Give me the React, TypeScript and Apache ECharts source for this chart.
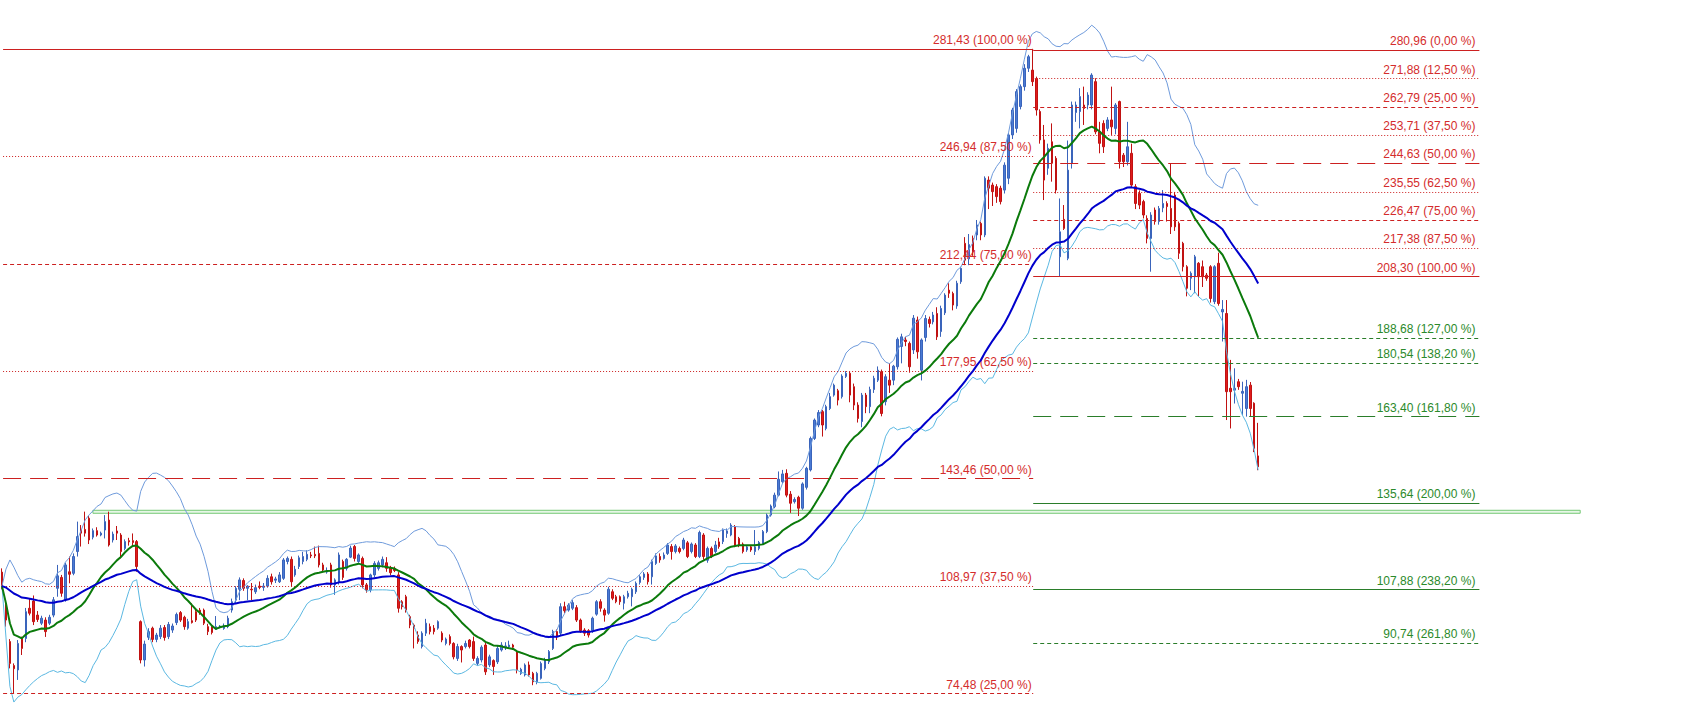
import React, { useEffect, useRef } from "react";
import * as echarts from "echarts";

// Candles, left to right, as [open, close, low, high]
const candlesA: number[][] = [
  [113.5, 109, 108, 114.7], [103, 98.1, 96, 104.5], [91.2, 84.2, 82.6, 92], [83.5, 82.5, 74.6, 84.2],
  [82.1, 90.6, 78.9, 91.7], [92.2, 89, 86.9, 92.8], [92.2, 100.8, 91, 102], [101.9, 100.3, 99.6, 105.1],
  [104.2, 97.6, 96.5, 106], [99.7, 98.3, 97.5, 101], [97.1, 98.7, 96.5, 99.5], [98.1, 94.4, 92.7, 99],
  [97.1, 99, 96.5, 99.8], [99.7, 104.6, 99, 105.5], [108.3, 112.3, 105.6, 115.8], [111.8, 106.7, 105.6, 112.6],
  [104.6, 115.8, 104, 116.5], [113.6, 112.8, 109.9, 118.5], [113.1, 118.5, 112.5, 119.5], [120.1, 124.9, 118.5, 129.7],
  [127, 126, 121.7, 128.6], [127.2, 126, 124.9, 132.9], [130.8, 123.8, 122.5, 131.5], [124.7, 126.8, 124, 127.5],
  [126.8, 125.4, 124.9, 127.9], [125.4, 126, 125, 126.5], [127, 129.7, 124.3, 131.8], [130.2, 122.2, 121.7, 132.9],
  [123.8, 125.7, 123, 126.5], [126.7, 126, 123.8, 128.3], [125.4, 120.1, 117.9, 126], [121.1, 123.3, 120.5, 124],
  [123.6, 123.2, 122, 124.5], [123.6, 123, 121.7, 125.9], [123.3, 115.3, 113.6, 123.8], [97.6, 85.3, 84.2, 98],
  [85.3, 90.4, 83.2, 91.5], [92.6, 94.4, 91.7, 95.5], [95.5, 91.9, 91, 96], [91.9, 93.3, 91, 94],
  [92.8, 95.5, 92, 96.5], [95.7, 92.5, 91.5, 96.5], [92.8, 96.7, 92, 97.5], [94.9, 96.2, 94, 97],
  [97.3, 99.9, 96.5, 100.5], [100.5, 98.1, 97.5, 101], [99, 96, 95, 99.5], [95.5, 97.6, 95, 98.5],
  [97.9, 97.3, 97, 103.5], [100.8, 98.1, 97.5, 101.5], [101.3, 100.5, 99.8, 102], [101.3, 97.1, 96.5, 101.8],
  [96, 94.4, 93.3, 96.9], [96, 94.1, 93.5, 96.5], [95.1, 96, 95, 99.4], [95.8, 96.2, 95.5, 96.5],
  [95.4, 96.2, 95, 97], [96, 98.7, 95.5, 99.5], [101.3, 104, 100.5, 105], [104.5, 108.3, 103.5, 109],
  [108, 111, 104.5, 111.8], [110.8, 108.3, 107.5, 111.5], [108.3, 109, 104.5, 109.3], [108, 107.8, 104.5, 110],
  [107.2, 108.5, 106.5, 109.5], [109, 108.6, 108, 110.5], [108.6, 109, 107.5, 110], [109, 111.5, 108.5, 112.5],
  [112, 110.4, 109.5, 113], [110.9, 111.3, 110, 112], [110.4, 112.6, 110, 113.5],
];

const candlesB: number[][] = [
  [111.5, 117.4, 111, 118], [116.9, 117.9, 116, 118.5], [117.6, 110.4, 109, 118.5], [112.6, 114.4, 112, 115.5],
  [115.3, 118.1, 114.5, 118.8], [116.9, 118.5, 116, 120], [117.6, 119.2, 117, 120.5], [119, 118.7, 118, 120],
  [119.2, 118.7, 118, 121.7], [119.5, 115.8, 115, 122], [115.8, 114.2, 113.5, 116.5], [113.5, 114, 113, 115],
  [115.8, 109.4, 108.5, 116.5], [109.4, 111, 106.2, 111.5], [110.4, 119, 109.5, 119.8], [116.9, 111.8, 111, 117.5],
  [114.7, 117.6, 114, 118], [118.3, 121.2, 118, 122], [121.7, 117.9, 116.9, 122.2], [116.9, 119, 116.5, 119.5],
  [117.9, 109.4, 108.3, 118.5], [109.4, 107.8, 106.9, 110], [107.8, 112.6, 107, 113], [112.6, 116.3, 111.8, 117],
  [114.7, 116.5, 114, 117.2], [115.8, 117.6, 115, 118.5], [116.5, 114.7, 113.6, 118.3], [115, 113.3, 112.5, 115.5],
  [114.7, 114, 113.5, 115.3], [112.6, 101.9, 100.5, 113.5], [104, 102.4, 101.5, 104.5], [105.6, 101.3, 100.5, 106.2],
  [99.2, 96.5, 95.5, 99.8], [96.5, 95.5, 89, 97], [93.3, 91.2, 90.5, 94.5], [89.6, 93.9, 89, 94.5],
  [93.9, 97.1, 93, 98.5], [96, 94.4, 93.5, 97], [95.5, 94.4, 93.5, 96.5], [95.5, 97.6, 95, 98],
  [93.9, 91.7, 91, 94.5], [90.6, 92, 90, 92.5], [92.8, 90.6, 90, 93.5], [90.6, 86.3, 85.5, 91],
  [85.8, 89.6, 85, 90.5], [89.6, 88.5, 84.5, 90], [89.6, 90.6, 89, 91.5], [91.7, 89.6, 89, 92],
  [91.2, 85.8, 85, 92.8], [84.2, 85.8, 83.5, 86.5], [85.3, 89.4, 84.5, 90], [90.1, 81.5, 80.5, 91],
  [83.7, 86.3, 83, 87], [85.1, 83.2, 80.5, 85.5], [84.7, 89, 84, 89.8], [88.5, 90.1, 88, 91],
  [89.5, 89.8, 88.5, 91], [89.5, 90.1, 89, 91.5], [90.1, 89.4, 88.5, 90.5], [88, 82.1, 81, 88.5],
  [81, 82.3, 80.5, 82.8], [80.5, 83.7, 80, 84.2], [83.7, 80.5, 80, 84.8], [81, 78.3, 77.2, 81.5],
  [78.3, 81, 77.5, 81.5], [79.4, 84.2, 79, 84.8], [82.6, 85.3, 82, 86], [84.7, 88, 84, 88.5],
];

const candlesC: number[][] = [
  [89, 94.4, 88.5, 95], [94.4, 92.8, 91.7, 95.1], [93.9, 102.4, 93, 103.5], [102.4, 101.1, 100.3, 104],
  [101.3, 102.9, 100.8, 103.5], [101.9, 103.7, 101.3, 104.5], [102.1, 98.1, 97.5, 102.9], [98.1, 94.7, 94, 98.6],
  [94.9, 93.9, 93, 95.5], [94.7, 93.3, 92.5, 95.2], [94.7, 98.7, 94, 99.2], [100, 104, 99.5, 104.5],
  [104, 101.9, 100.8, 104.8], [101.3, 99.7, 97.6, 101.9], [100.3, 108, 99.8, 108.8], [107.2, 105.1, 104.5, 108],
  [105.6, 104, 103.5, 106.2], [105.6, 104, 103, 106], [103.5, 105.6, 101.5, 106.2], [105.6, 106.7, 105, 107.5],
  [105.6, 108, 102.5, 108.5], [107.2, 109.9, 106.5, 110.5], [110.2, 112, 109.5, 112.5], [111.8, 112.9, 111, 113.5],
  [112.9, 110.4, 109.5, 113.5], [112, 116.9, 109.5, 117.5], [116.3, 118.7, 115.8, 119.5], [118.5, 117.4, 116.5, 119.5],
  [117.9, 119, 117.5, 119.8], [119.5, 122.2, 119, 122.8], [121.7, 120.1, 117.5, 122.5], [120.1, 121.9, 119.5, 122.5],
  [121.1, 120.1, 119.5, 121.7], [121.1, 123.8, 120.5, 124.5], [122.9, 118.5, 118, 123.5], [120.1, 122.5, 119.5, 123],
  [122.2, 118.5, 118, 122.8], [118.5, 126.2, 118, 126.8], [125.4, 118.5, 117.5, 126], [117.3, 121.1, 116.5, 121.7],
  [121.1, 118.7, 118, 121.7], [120.1, 122.2, 119.5, 123.5], [123.2, 121.7, 121, 124.5], [123.3, 127, 122.5, 127.5],
  [125.9, 126.7, 124.5, 127.5], [125.4, 128.6, 125, 129.2], [128, 122.2, 121.5, 128.6], [124.3, 122.2, 121.5, 124.8],
];

const candlesD: number[][] = [
  [122.5, 120.1, 119.5, 123], [120.6, 121.6, 120, 122], [121.6, 120.6, 120, 122], [120.1, 121.6, 119, 127],
  [121.1, 123, 120.5, 123.5], [122.8, 126.5, 122.3, 127], [126.5, 131.8, 126, 132.3], [131.8, 134.7, 131.3, 135.2],
  [134.5, 138.2, 134, 139], [138.2, 143.3, 137.8, 145.8], [142.5, 145, 142, 146.3], [145.2, 138.2, 137.5, 146.5],
  [138.5, 135.6, 132.5, 139.5], [136.1, 136.8, 135.5, 137.5], [137.5, 134, 131.5, 138], [134, 141.8, 133.5, 142.3],
  [140.7, 146.8, 140, 147.3], [146.3, 156.4, 145.8, 157], [156.4, 162.3, 155.9, 162.8], [160.7, 164.7, 160, 165.5],
  [165, 160.7, 157, 165.5], [159.6, 166.6, 159, 167.2],
];

const candlesE: number[][] = [
  [166, 169.8, 165.5, 171], [170.3, 173.5, 169.8, 174], [171.7, 168.7, 167, 172.3], [169.8, 176.4, 169.2, 177],
  [176.3, 177.3, 175.8, 178], [177.3, 170.3, 168, 178], [173, 167.1, 165.5, 174], [167.1, 162.8, 161.5, 168],
  [161.8, 170.3, 160, 171], [170.3, 166.6, 164.5, 171], [166.6, 172.1, 164.5, 173], [172.1, 175.7, 171, 176.5],
  [175.1, 178.3, 174.5, 179.5], [177.8, 164.4, 163.5, 178.5], [168.2, 176.2, 167, 177], [175.1, 173.5, 171, 180.5],
  [175.1, 179.6, 173.5, 180], [179.4, 188.2, 178.5, 188.8], [185.9, 189, 180.5, 190], [188, 187.5, 186, 189],
  [186.9, 179.4, 177.5, 187.5], [184.8, 195, 183.5, 196], [194.4, 184.2, 182, 195.5], [178.3, 188, 175, 188.5],
  [188.8, 194.9, 187.5, 196], [194.6, 193.3, 192, 195.5], [193.8, 196, 193, 197], [196.5, 189, 188, 198.5],
  [190.7, 198.1, 189, 199], [196.7, 202.4, 196, 203], [204, 203, 201.5, 206.2], [202.9, 199.2, 197.5, 203.5],
  [198.9, 206.2, 198, 207], [206.7, 211, 206, 211.5],
];

const candlesF: number[][] = [
  [219, 213.6, 212, 221], [214, 218.6, 212, 222], [220.6, 216.3, 215, 221.5], [221.7, 224.9, 220, 226.5],
  [225.4, 221.7, 220, 226], [221.7, 239.9, 221, 240.5], [239.3, 236.7, 230, 240.5], [237.7, 235.6, 231, 238.5],
  [237.2, 234, 232, 238], [236.7, 232.4, 231.5, 237.5], [236.1, 244.1, 235, 245], [239.9, 253.8, 238, 254.5],
  [253.8, 261.8, 252.5, 262.5], [255.9, 267.7, 254.5, 268.5], [262.9, 269.3, 262, 270], [269.3, 275.2, 268, 276.5],
  [275.2, 278.9, 274, 279.5], [274.6, 270.9, 269.5, 281.43],
  [271.9, 261.8, 260, 272.5], [261.3, 252.2, 251, 262], [252.2, 239.3, 232.9, 257], [243.1, 249.5, 241, 251],
  [251.6, 244.7, 238.8, 257.5], [246.3, 236.1, 235, 247], [214.7, 222.7, 208.5, 233.4], [226.7, 223.8, 223.3, 231.3],
  [214.2, 242.5, 213.6, 252], [244.7, 263.4, 243, 264.5], [261, 263.4, 258, 264.5], [261.3, 266.1, 255.9, 268.8],
  [263.4, 262.3, 257, 269.3], [263.4, 266.6, 262, 267.5], [263.4, 273, 262, 273.6], [270.9, 254.8, 254, 272],
  [254.8, 251.1, 247.9, 258], [257.5, 250, 248, 258.5], [255.9, 258.6, 255, 259.5], [258.6, 256.4, 253.8, 269.3],
  [255.9, 263.4, 254, 264], [264.5, 245.2, 243, 264.8], [247.3, 245.2, 243.5, 248], [245.2, 250, 244, 258],
  [247.9, 237.7, 237, 251], [237.2, 231.8, 230, 238], [235, 231.3, 230, 236], [232.4, 228.1, 227, 233],
  [227, 220.6, 219, 228], [220.6, 228.1, 209.9, 229], [229.7, 226, 225, 230.5], [226, 230.2, 225, 231],
  [230.4, 231.8, 229, 236.1], [231.8, 230.8, 226, 232.5],
];

const candlesG: number[][] = [
  [230.2, 224.3, 222, 244.6], [234.5, 224.3, 223, 235.5], [225.4, 215.8, 214, 226], [219, 211.5, 210, 219.5],
  [211.5, 204.6, 202, 212], [207.8, 209.4, 204, 210], [208.3, 214.7, 203, 215.3], [212.6, 208.3, 202, 213],
  [211.5, 208.3, 205, 213.5], [208.8, 207.8, 207, 209.5], [211.5, 201.3, 200, 212], [200.3, 211.5, 199.5, 212],
  [212.6, 199.7, 199, 216],
];

const candlesH: number[][] = [
  [197, 197.8, 187.5, 200.8], [196.5, 171.4, 162.3, 200.8], [172.5, 171.4, 159.6, 181.6], [171.9, 172.5, 167.6, 178.9],
  [174.6, 173, 172, 175.5], [170.9, 171.5, 163.9, 174.6], [166, 173, 163.4, 175.2], [173.5, 166, 163.4, 174.5],
  [167.7, 153.2, 152, 168], [150.8, 147.3, 146.2, 161.4],
];

// Fibonacci levels (left set, drawn from the earlier swing)
const leftFibValues = [281.43, 246.94, 212.44, 177.95, 143.46, 108.97, 74.48];
const leftFibLabels = [
  "281,43 (100,00 %)", "246,94 (87,50 %)", "212,44 (75,00 %)", "177,95 (62,50 %)",
  "143,46 (50,00 %)", "108,97 (37,50 %)", "74,48 (25,00 %)",
];
const leftFibStyles = ["solid", "dotted", "dashed", "dotted", "longdash", "dotted", "dashed"];

// Fibonacci levels (right set, retracement and extension)
const rightFibValues = [280.96, 271.88, 262.79, 253.71, 244.63, 235.55, 226.47, 217.38, 208.3, 188.68, 180.54, 163.4, 135.64, 107.88, 90.74];
const rightFibLabels = [
  "280,96 (0,00 %)", "271,88 (12,50 %)", "262,79 (25,00 %)", "253,71 (37,50 %)", "244,63 (50,00 %)",
  "235,55 (62,50 %)", "226,47 (75,00 %)", "217,38 (87,50 %)", "208,30 (100,00 %)",
  "188,68 (127,00 %)", "180,54 (138,20 %)", "163,40 (161,80 %)", "135,64 (200,00 %)",
  "107,88 (238,20 %)", "90,74 (261,80 %)",
];
const rightFibStyles = ["solid", "dotted", "dashed", "dotted", "longdash", "dotted", "dashed", "dotted", "solid", "dashed", "dashed", "longdash", "solid", "solid", "dashed"];
const rightFibGroups = ["r", "r", "r", "r", "r", "r", "r", "r", "r", "g", "g", "g", "g", "g", "g"];

// Support zone (price band)
const zoneValues = [133.34, 132.38];

const MA_PERIOD = 20;
const BB_DEV = 2;
const EMA_PERIOD = 50;

export default function App() {
  const ref = useRef<HTMLDivElement>(null);

  useEffect(() => {
    if (!ref.current) return;
    const chart = echarts.init(ref.current, undefined, { renderer: "svg" });

    const candles = [...candlesA, ...candlesB, ...candlesC, ...candlesD, ...candlesE, ...candlesF, ...candlesG, ...candlesH];
    const closes = candles.map((c) => c[1]);

    const sma: number[] = [];
    const upper: number[] = [];
    const lower: number[] = [];
    for (let i = 0; i < closes.length; i++) {
      const w = closes.slice(Math.max(0, i - MA_PERIOD + 1), i + 1);
      const m = w.reduce((a, b) => a + b, 0) / w.length;
      const sd = Math.sqrt(w.reduce((a, b) => a + (b - m) * (b - m), 0) / w.length);
      sma.push(+m.toFixed(3));
      upper.push(+(m + BB_DEV * sd).toFixed(3));
      lower.push(+(m - BB_DEV * sd).toFixed(3));
    }
    const ema: number[] = [];
    const alpha = 2 / (EMA_PERIOD + 1);
    closes.forEach((c, i) => {
      ema.push(i === 0 ? c : +(ema[i - 1] + alpha * (c - ema[i - 1])).toFixed(3));
    });

    const SLOTS = 428;
    const cats = Array.from({ length: SLOTS }, (_, i) => String(i));
    const GRID_L = -3.085;
    const GRID_R = 0.925;
    const PX_MAX = 1697 - GRID_R;

    const dash: Record<string, any> = { solid: "solid", dotted: [1, 2], dashed: [4, 3], longdash: [18, 9] };
    const RED_LINE = "#cc2020";
    const RED_TEXT = "#d42c2c";
    const GREEN_LINE = "#2a7d2a";
    const GREEN_TEXT = "#2b8a2b";
    const FONT = "Liberation Sans, Arial, sans-serif";
    const X0 = 0;
    const SPLIT = 1032;
    const X_END = 1479;

    const fib = (v: number, text: string, style: string, lc: string, tc: string, a: number, b: number, dx: number) => [
      {
        coord: [a, v],
        lineStyle: { color: lc, width: 1, type: dash[style] },
        label: {
          show: true,
          formatter: text,
          position: "insideEndTop",
          color: tc,
          fontSize: 12,
          fontFamily: FONT,
          distance: [dx, 3],
        },
      },
      { coord: [b, v] },
    ];

    const markData: any[] = [];
    leftFibValues.forEach((v, i) => markData.push(fib(v, leftFibLabels[i], leftFibStyles[i], RED_LINE, RED_TEXT, X0, SPLIT, 1.5)));
    rightFibValues.forEach((v, i) => {
      const g = rightFibGroups[i] === "g";
      markData.push(fib(v, rightFibLabels[i], rightFibStyles[i], g ? GREEN_LINE : RED_LINE, g ? GREEN_TEXT : RED_TEXT, SPLIT, X_END, 4));
    });

    chart.setOption({
      animation: false,
      backgroundColor: "#ffffff",
      grid: { left: GRID_L, right: GRID_R, top: 0, bottom: 0, containLabel: false },
      xAxis: [
        { type: "category", data: cats, boundaryGap: true, show: false, gridIndex: 0 },
        { type: "value", min: GRID_L, max: PX_MAX, show: false, gridIndex: 0 },
      ],
      yAxis: [{ type: "value", min: 67, max: 297.1, show: false, splitLine: { show: false } }],
      series: [
        {
          type: "line",
          xAxisIndex: 1,
          yAxisIndex: 0,
          data: [[-50, 150]],
          symbol: "none",
          lineStyle: { opacity: 0 },
          silent: true,
          z: 1,
          markArea: {
            silent: true,
            itemStyle: { color: "rgba(215,242,215,0.6)", borderColor: "#74c874", borderWidth: 1 },
            data: [[{ coord: [90, zoneValues[0]] }, { coord: [1580, zoneValues[1]] }]],
          },
          markLine: { silent: true, symbol: ["none", "none"], animation: false, data: markData },
        },
        {
          type: "candlestick",
          xAxisIndex: 0,
          yAxisIndex: 0,
          data: candles.map((c) => [c[0], c[1], c[2], c[3]]),
          barWidth: 2,
          z: 3,
          itemStyle: {
            color: "#4a7ad4",
            color0: "#e01c1c",
            borderColor: "#3a64bb",
            borderColor0: "#c01212",
            borderWidth: 1,
          },
        },
        { type: "line", data: upper, symbol: "none", z: 4, lineStyle: { color: "#6f9bdc", width: 1 } },
        { type: "line", data: lower, symbol: "none", z: 4, lineStyle: { color: "#5bb8e2", width: 1 } },
        { type: "line", data: sma, symbol: "none", z: 5, lineStyle: { color: "#0b7a0b", width: 2 } },
        { type: "line", data: ema, symbol: "none", z: 5, lineStyle: { color: "#0000cc", width: 2 } },
      ],
    });

    return () => chart.dispose();
  }, []);

  return <div ref={ref} style={{ position: "fixed", left: 0, top: 0, width: 1697, height: 717, background: "#fff" }} />;
}
